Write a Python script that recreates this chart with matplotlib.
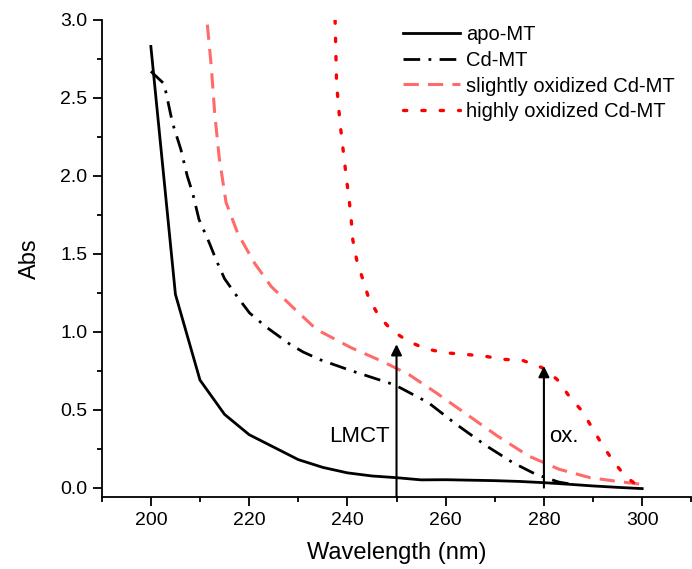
import matplotlib
matplotlib.use("Agg")
import matplotlib.pyplot as plt
from matplotlib.ticker import MultipleLocator

plt.rcParams['font.family'] = ['Liberation Sans', 'DejaVu Sans']

# apo-MT (solid black)
apo_x = [200, 205, 210, 215, 220, 225, 230, 235, 240, 245, 250, 255, 260, 265, 270, 275, 280, 285, 290, 295, 300]
apo_y = [2.83, 1.24, 0.69, 0.47, 0.34, 0.26, 0.18, 0.13, 0.095, 0.075, 0.064, 0.05, 0.051, 0.048, 0.045, 0.04, 0.032, 0.022, 0.011, 0.002, -0.006]

# Cd-MT (dash-dot black)
cd_x = [200, 202.7, 204.4, 206.1, 207.4, 208.5, 209.8, 211.9, 213.3, 215, 217.7, 220.1, 223.5, 228.3, 231,
        234.5, 240.8, 248.6, 250.2, 256.5, 262, 268.2, 273.7, 278.4, 283, 286]
cd_y = [2.67, 2.59, 2.34, 2.17, 2.0, 1.89, 1.72, 1.57, 1.46, 1.34, 1.22, 1.12, 1.03, 0.92, 0.87,
        0.82, 0.75, 0.67, 0.65, 0.545, 0.41, 0.27, 0.16, 0.085, 0.036, 0.02]

# slightly oxidized Cd-MT (light red dashed)
slight_x = [211.5, 212.3, 213.0, 213.9, 215.3, 217.7, 221.1, 224.5, 228.8, 233.7, 240.8, 247.1, 252.5, 258, 264.3,
            270.6, 276.9, 283.1, 289.4, 295, 300]
slight_y = [2.97, 2.70, 2.40, 2.12, 1.83, 1.63, 1.44, 1.29, 1.16, 1.015, 0.897, 0.81, 0.726, 0.61, 0.47,
            0.33, 0.203, 0.118, 0.064, 0.04, 0.021]

# highly oxidized Cd-MT (red dotted)
high_x = [237.5, 237.8, 238.5, 239.3, 239.9, 240.4, 240.8, 241.1, 241.9, 243.1, 244.3, 246.4, 249, 252.3, 256,
          260, 263.9, 267.8, 271.8, 275.7, 279.6, 282.7, 285.1, 287.8, 289.8, 291.8, 294.1, 296.5, 300]
high_y = [3.0, 2.59, 2.34, 2.12, 1.96, 1.835, 1.71, 1.59, 1.46, 1.34, 1.22, 1.10, 1.01, 0.94, 0.89,
          0.865, 0.855, 0.844, 0.823, 0.816, 0.77, 0.694, 0.588, 0.49, 0.385, 0.278, 0.171, 0.075, -0.01]

# arrows and their labels
arrow_x = [250, 280]
arrow_y0 = [-0.06, 0.0]
arrow_y1 = [0.92, 0.78]
arrow_labels = ["LMCT", "ox."]
label_x = [248.7, 281.0]
label_y = [0.33, 0.33]

fig = plt.figure(figsize=(6.92, 5.69), dpi=100)
ax = fig.add_axes([0.147, 0.1265, 0.852, 0.8385])

ax.plot(apo_x, apo_y, color='black', lw=2.0, label='apo-MT')
ax.plot(cd_x, cd_y, color='black', lw=2.0, linestyle=(0, (6, 3, 1, 3)), label='Cd-MT')
ax.plot(slight_x, slight_y, color='#ff6b6b', lw=2.2, linestyle=(0, (5, 3)), label='slightly oxidized Cd-MT')
ax.plot(high_x, high_y, color='#ff0000', lw=2.4, linestyle=(0, (1, 4.5)), dash_capstyle='round',
        label='highly oxidized Cd-MT')

for x, y0, y1, lab, lx, ly in zip(arrow_x, arrow_y0, arrow_y1, arrow_labels, label_x, label_y):
    ax.annotate('', xy=(x, y1), xytext=(x, y0),
                arrowprops=dict(arrowstyle='-|>', color='black', lw=1.5, mutation_scale=16,
                                shrinkA=0, shrinkB=0))
    ha = 'right' if lab == 'LMCT' else 'left'
    ax.text(lx, ly, lab, fontsize=16, ha=ha, va='center')

ax.set_xlim(190, 310)
ax.set_ylim(-0.06, 3.0)
ax.xaxis.set_major_locator(MultipleLocator(20))
ax.xaxis.set_minor_locator(MultipleLocator(10))
ax.yaxis.set_major_locator(MultipleLocator(0.5))
ax.yaxis.set_minor_locator(MultipleLocator(0.25))
ax.yaxis.set_major_formatter(plt.FormatStrFormatter('%.1f'))

for side in ['top', 'right']:
    ax.spines[side].set_visible(False)
for side in ['left', 'bottom']:
    ax.spines[side].set_linewidth(1.3)
ax.tick_params(which='major', direction='out', length=6.5, width=1.3, labelsize=14, pad=4)
ax.tick_params(which='minor', direction='out', length=3.5, width=1.3)

ax.set_xlabel('Wavelength (nm)', fontsize=17, labelpad=10)
ax.set_ylabel('Abs', fontsize=17, labelpad=14)

ax.legend(loc='upper right', bbox_to_anchor=(0.992, 1.015), frameon=False, fontsize=14.5,
          handlelength=2.8, handletextpad=0.3, labelspacing=0.34, borderaxespad=0.2)

fig.savefig('out.png', dpi=100)
